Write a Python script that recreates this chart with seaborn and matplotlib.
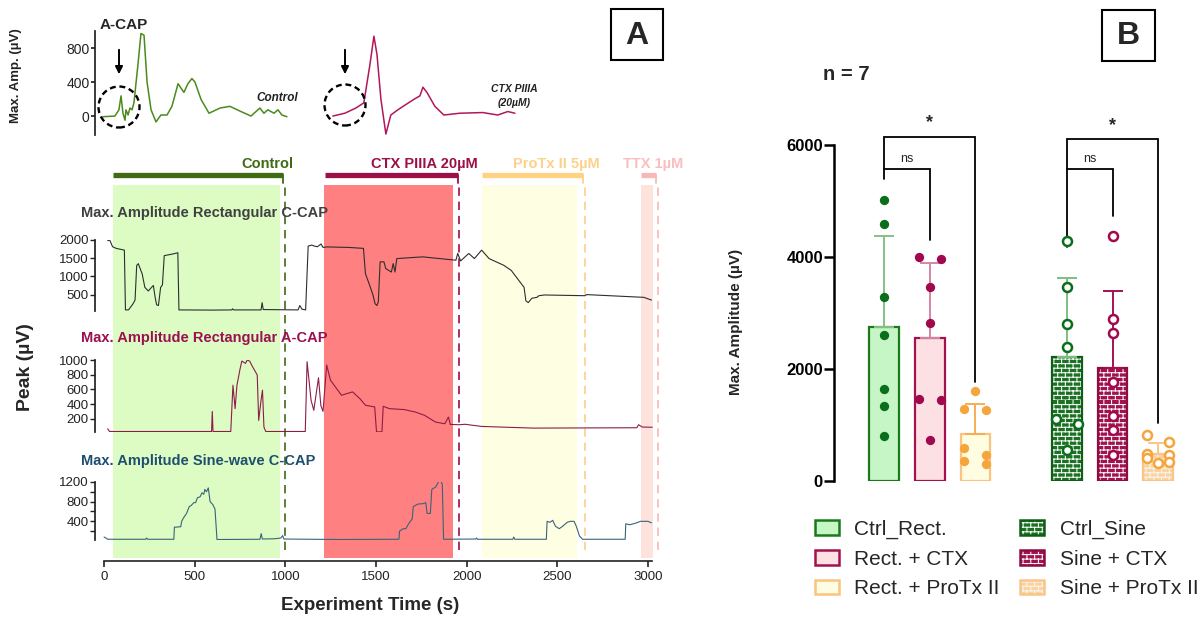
import matplotlib
matplotlib.use('Agg')
import numpy as np
import pandas as pd
import matplotlib.pyplot as plt
import matplotlib.hatch as mhatch
from matplotlib.path import Path
from matplotlib.patches import Patch, Ellipse, Rectangle, FancyArrowPatch
from matplotlib.legend_handler import HandlerTuple
import seaborn as sns

sns.set_theme(style='ticks')
plt.rcParams['font.family'] = ['Liberation Sans', 'DejaVu Sans']
plt.rcParams['hatch.linewidth'] = 0.8

# ---------------- data: panel A ----------------
# inset sweeps (ms, µV)
sweep_control = [(0, -8), (0.63, 0), (0.84, 73), (0.95, 237), (1.05, 33), (1.16, -49), (1.21, 73),
                 (1.32, 12), (1.42, 94), (1.53, 73), (1.63, 155), (1.84, 604), (2.0, 971), (2.16, 951),
                 (2.32, 400), (2.53, 73), (2.79, -69), (3.05, 12), (3.37, 12), (3.63, 114), (3.95, 380),
                 (4.26, 278), (4.47, 380), (4.68, 441), (4.84, 400), (5.16, 196), (5.58, 33), (6.16, 94),
                 (6.68, 114), (7.26, 53), (7.79, 0), (8.26, 94), (8.47, 33), (8.68, 73), (9.0, 33),
                 (9.21, 73), (9.42, 12), (9.68, -8)]
sweep_ctx = [(0, 0), (0.63, 33), (1.21, 94), (1.63, 155), (1.95, 604), (2.16, 939), (2.32, 727),
             (2.53, 196), (2.79, -212), (3.05, 12), (3.42, 73), (3.84, 135), (4.26, 196), (4.58, 237),
             (4.74, 339), (4.95, 278), (5.37, 114), (5.84, 12), (6.68, 33), (7.89, 41), (8.68, 12),
             (9.21, 53), (9.58, 33)]

# experiment time course (s, µV)
rect_ccap = [(20, 1980), (31, 2000), (47, 1815), (67, 1770), (112, 1722), (118, 80), (135, 80), (160, 250),
             (171, 350), (180, 1300), (189, 1350), (199, 1215), (210, 1075), (225, 700), (244, 600),
             (262, 700), (272, 750), (282, 420), (290, 220), (300, 200), (312, 700), (322, 765),
             (332, 1570), (383, 1620), (407, 1650), (413, 80), (600, 75), (705, 80), (709, 110), (715, 80),
             (866, 80), (872, 280), (878, 90), (1070, 80), (1080, 200), (1092, 100), (1112, 80),
             (1126, 1833), (1146, 1860), (1162, 1830), (1177, 1815), (1197, 1890), (1208, 1796),
             (1228, 1810), (1350, 1796), (1431, 1770), (1442, 1075), (1462, 800), (1483, 500), (1495, 250),
             (1505, 200), (1513, 300), (1523, 1400), (1544, 1400), (1554, 1215), (1585, 1120), (1595, 1352),
             (1605, 1120), (1615, 1490), (1758, 1537), (1941, 1445), (1951, 1630), (1967, 1425),
             (2012, 1630), (2043, 1490), (2083, 1722), (2124, 1490), (2205, 1305), (2246, 1167),
             (2317, 700), (2327, 330), (2340, 280), (2360, 400), (2388, 425), (2399, 470), (2429, 490),
             (2653, 470), (2663, 500), (2978, 425), (3020, 350)]
rect_acap = [(20, 64), (30, 27), (593, 27), (597, 300), (601, 27), (699, 27), (711, 657), (723, 338),
             (733, 655), (749, 863), (760, 986), (780, 954), (790, 1000), (804, 983), (814, 932), (835, 840),
             (845, 795), (853, 178), (866, 452), (874, 589), (882, 87), (892, 27), (1110, 27), (1120, 977),
             (1142, 452), (1157, 315), (1183, 758), (1196, 380), (1208, 300), (1228, 932), (1249, 726),
             (1269, 657), (1310, 520), (1371, 566), (1411, 475), (1442, 384), (1493, 361), (1503, 22),
             (1533, 22), (1540, 370), (1574, 338), (1656, 325), (1717, 292), (1768, 247), (1829, 155),
             (1880, 132), (1900, 224), (1910, 123), (1961, 119), (1991, 125), (2083, 96), (2368, 73),
             (2939, 78), (2949, 119), (2969, 87), (3024, 85)]
sine_ccap = [(0, 80), (10, 60), (20, 35), (230, 35), (235, 60), (240, 35), (385, 35), (388, 280), (423, 290),
             (428, 400), (440, 480), (455, 560), (470, 700), (480, 720), (495, 780), (505, 780), (515, 880),
             (530, 900), (540, 980), (550, 950), (556, 1050), (565, 1000), (575, 1080), (585, 800),
             (600, 740), (612, 650), (623, 30), (860, 35), (867, 150), (873, 40), (940, 45), (975, 60),
             (985, 110), (992, 40), (1300, 30), (1627, 35), (1630, 200), (1650, 250), (1665, 250),
             (1680, 350), (1700, 450), (1706, 700), (1730, 750), (1760, 760), (1775, 780), (1782, 560),
             (1800, 560), (1808, 1050), (1830, 1100), (1850, 1240), (1860, 1200), (1866, 1150), (1873, 35),
             (2050, 40), (2055, 60), (2060, 35), (2255, 35), (2260, 80), (2266, 35), (2440, 35), (2444, 400),
             (2460, 380), (2475, 420), (2490, 300), (2511, 250), (2530, 300), (2555, 380), (2572, 400),
             (2593, 400), (2605, 300), (2623, 100), (2640, 35), (2875, 35), (2878, 350), (2900, 330),
             (2930, 360), (2960, 400), (3000, 400), (3020, 370)]

cond_names = ['Control', 'CTX PIIIA 20µM', 'ProTx II 5µM', 'TTX 1µM']
cond_bar_start = [51, 1219, 2085, 2963]
cond_bar_end = [989, 1950, 2641, 3047]
shade_start = [51, 1212, 2083, 2963]
shade_end = [973, 1927, 2607, 3030]
washout_t = [998, 1957, 2654, 3055]

# ---------------- data: panel B ----------------
b_labels = ['Ctrl_Rect.', 'Rect. + CTX', 'Rect. + ProTx II', 'Ctrl_Sine', 'Sine + CTX', 'Sine + ProTx II']
b_mean = [2750, 2550, 840, 2215, 2018, 482]
b_sd = [1630, 1350, 535, 1410, 1375, 200]
ctrl_rect_pts = [5020, 4590, 3290, 2610, 1640, 1340, 800]
rect_ctx_pts = [4000, 3965, 3465, 2820, 1465, 1440, 730]
rect_protx_pts = [1610, 1285, 1270, 590, 465, 355, 305]
ctrl_sine_pts = [4290, 3465, 2800, 2390, 1105, 1020, 555]
sine_ctx_pts = [4375, 2895, 2645, 1770, 1160, 910, 465]
sine_protx_pts = [820, 700, 480, 465, 410, 340, 320]
# brackets: (left bar, right bar, top, left leg end, right leg end, label)
sig_brackets = [(0, 2, 6150, 5400, 1770, '*'), (0, 1, 5570, 5570, 4300, 'ns'),
                (4, 6, 6100, 4180, 1040, '*'), (4, 5, 5570, 5570, 4730, 'ns')]


# brick hatch (GraphPad style) used for the sine-wave bars
class BrickHatch(mhatch.HatchPatternBase):
    def __init__(self, hatch, density):
        n = hatch.count('+')
        self.rows, self.cols = 22 * n, 13 * n
        self.num_vertices = (2 * self.rows + 2 * self.rows * self.cols) if n else 0

    def set_vertices_and_codes(self, vertices, codes):
        h = 1.0 / self.rows
        k = 0
        for r in range(self.rows):
            vertices[k] = (0, r * h)
            vertices[k + 1] = (1, r * h)
            k += 2
        for r in range(self.rows):
            off = 0.5 / self.cols if r % 2 else 0.0
            for c in range(self.cols):
                x = c / self.cols + off
                vertices[k] = (x, r * h)
                vertices[k + 1] = (x, (r + 1) * h)
                k += 2
        codes[0::2] = Path.MOVETO
        codes[1::2] = Path.LINETO


mhatch._hatch_types = [BrickHatch]
HATCH = '+'

# ---------------- layout helpers ----------------
W, H = 1201, 619
fig = plt.figure(figsize=(W / 100, H / 100), dpi=100)
fig.patch.set_facecolor('white')


def box(x0, y0, x1, y1):
    return [x0 / W, 1 - y1 / H, (x1 - x0) / W, (y1 - y0) / H]


def fx(px):
    return px / W


def fy(py):
    return 1 - py / H


def spread(vals, thr=200, dx=0.24):
    offs, i = [], 0
    while i < len(vals):
        if i + 1 < len(vals) and abs(vals[i] - vals[i + 1]) < thr:
            offs += [-dx, dx]
            i += 2
        else:
            offs.append(0.0)
            i += 1
    return offs


# ---------------- panel A: inset sweeps ----------------
ax_in = fig.add_axes(box(95, 31, 600, 135))
ax_in.set_facecolor('none')
ax_in.set_xlim(-0.42, 26.16)
ax_in.set_ylim(-223, 1000)
t, v = zip(*sweep_control)
sns.lineplot(x=list(t), y=list(v), ax=ax_in, color='#4b8a1c', lw=1.1, sort=False, estimator=None)
t, v = zip(*sweep_ctx)
sns.lineplot(x=[x + 12.1 for x in t], y=list(v), ax=ax_in, color='#b0185a', lw=1.1, sort=False, estimator=None)
for s in ['top', 'right', 'bottom']:
    ax_in.spines[s].set_visible(False)
ax_in.spines['left'].set_color('#222222')
ax_in.set_xticks([])
ax_in.set_yticks([0, 400, 800])
ax_in.tick_params(axis='y', labelsize=10, length=3, pad=1, colors='#222222')
ax_in.set_ylabel('')
fig.text(fx(16), fy(76), 'Max. Amp. (µV)', rotation=90, ha='center', va='center', fontsize=9.5,
         fontweight='bold', color='#222222')
fig.text(fx(124), fy(25), 'A-CAP', ha='center', va='center', fontsize=11, fontweight='bold')
fig.text(fx(298), fy(98), 'Control', ha='right', va='center', fontsize=8.5, fontweight='bold',
         fontstyle='italic', color='#222222')
fig.text(fx(514), fy(96), 'CTX PIIIA\n(20µM)', ha='center', va='center', fontsize=7.5, fontweight='bold',
         fontstyle='italic', color='#222222', linespacing=1.5)
for cx, cy in [(119, 107), (345, 105)]:
    fig.add_artist(Ellipse((fx(cx), fy(cy)), 41 / W, 41 / H, transform=fig.transFigure, fill=False,
                           ec='black', lw=1.7, ls=(0, (2.5, 1.6))))
    fig.add_artist(FancyArrowPatch((fx(cx), fy(47)), (fx(cx), fy(77)), transform=fig.transFigure,
                                   arrowstyle='-|>', mutation_scale=11, lw=1.4, color='black'))

# ---------------- panel A: time course ----------------
T_LIM = (-50, 3078)
bar_cols = ['#3f6b12', '#9c0f48', '#ffd283', '#f9b8b8']
label_cols = ['#3f6b12', '#9c0f48', '#fcd18a', '#f9bfbf']
shade_cols = ['#ddfcc4', '#ff8080', '#fefee2', '#fde3dc']
dash_cols = ['#3f6b12', '#9c0f48', '#fcd08a', '#f9b8b8']
label_x = [1045, 2061, 2735, 2863]
label_ha = ['right', 'right', 'right', 'left']

ax_t = fig.add_axes(box(95, 185, 662, 561))
ax_t.set_xlim(*T_LIM)
ax_t.set_ylim(0, 1)
ax_t.set_facecolor('none')
for s in ['left', 'right', 'top']:
    ax_t.spines[s].set_visible(False)
ax_t.spines['bottom'].set_bounds(0, 3025)
ax_t.spines['bottom'].set_color('#222222')
ax_t.spines['bottom'].set_linewidth(1.2)
ax_t.set_yticks([])
ax_t.set_xticks(range(0, 3001, 500))
ax_t.tick_params(axis='x', labelsize=9.5, length=4, width=1.2, pad=3, colors='#222222')
trans = ax_t.get_xaxis_transform()
for i, name in enumerate(cond_names):
    ax_t.axvspan(shade_start[i], shade_end[i], ymin=0.008, ymax=1, color=shade_cols[i], lw=0, zorder=0)
    ax_t.axvline(washout_t[i], ymin=0.03, ymax=1, color=dash_cols[i], lw=1.2, ls=(0, (5, 3.5)), zorder=1)
    ax_t.plot([cond_bar_start[i], cond_bar_end[i]], [1.0266, 1.0266], transform=trans, color=bar_cols[i],
              lw=3.8, clip_on=False, solid_capstyle='butt')
    ax_t.plot([cond_bar_end[i], cond_bar_end[i]], [1.0266, 1.005], transform=trans, color=bar_cols[i],
              lw=1.3, clip_on=False)
    ax_t.text(label_x[i], 1.056, name, transform=trans, ha=label_ha[i], va='center', fontsize=10.5,
              fontweight='bold', color=label_cols[i])

subpanels = [
    ('Max. Amplitude Rectangular C-CAP', rect_ccap, '#404040', '#2e2e2e', 240, 311, (50, 2000),
     [500, 1000, 1500, 2000], 213, None),
    ('Max. Amplitude Rectangular A-CAP', rect_acap, '#9b1050', '#8c1d4a', 360, 432, (20, 1000),
     [200, 400, 600, 800, 1000], 338, None),
    ('Max. Amplitude Sine-wave C-CAP', sine_ccap, '#1f4f70', '#3b6379', 482, 540, (20, 1200),
     [400, 800, 1200], 461, 200),
]
for title, trace, tcol, lcol, top, bot, ylim, ticks, ty, minor in subpanels:
    ax = fig.add_axes(box(95, top, 662, bot))
    ax.set_facecolor('none')
    ax.set_xlim(*T_LIM)
    ax.set_ylim(*ylim)
    t, v = zip(*trace)
    sns.lineplot(x=list(t), y=list(v), ax=ax, color=lcol, lw=0.8, sort=False, estimator=None)
    for s in ['top', 'right', 'bottom']:
        ax.spines[s].set_visible(False)
    ax.spines['left'].set_color('#222222')
    ax.set_xticks([])
    ax.set_yticks(ticks)
    if minor:
        ax.set_yticks(range(minor, ylim[1], 400), minor=True)
    ax.tick_params(axis='y', which='both', labelsize=9.5, length=3.5, width=1, pad=1, colors='#222222')
    ax.set_xlabel('')
    ax.set_ylabel('')
    fig.text(fx(81), fy(ty), title, ha='left', va='center', fontsize=10.5, fontweight='bold', color=tcol)

fig.text(fx(25), fy(367), 'Peak (µV)', rotation=90, ha='center', va='center', fontsize=14, fontweight='bold')
fig.text(fx(370), fy(605), 'Experiment Time (s)', ha='center', va='center', fontsize=13.5, fontweight='bold')

# ---------------- panel B ----------------
face = ['#c6f5c6', '#fde0e4', '#fffde1', '#1a7222', '#a3124f', '#fdd39a']
edge = ['#1a7a1a', '#a3124f', '#fbc47e', '#0e5e16', '#8c0c45', '#f9c68a']
err_cols = ['#84c284', '#d684a6', '#f7ad55', '#7fbf7f', '#a3124f', '#f9c68a']
pt_cols = ['#0b6e1a', '#a1094e', '#f6a53c', '#0b6e1a', '#a1094e', '#f6a53c']
hatched = [False, False, False, True, True, True]
bar_pos = [0, 1, 2, 4, 5, 6]
all_pts = [ctrl_rect_pts, rect_ctx_pts, rect_protx_pts, ctrl_sine_pts, sine_ctx_pts, sine_protx_pts]

axB = fig.add_axes(box(834, 145, 1180, 481))
axB.set_facecolor('none')
bar_df = pd.DataFrame({'pos': bar_pos, 'mean': b_mean, 'group': b_labels})
sns.barplot(data=bar_df, x='pos', y='mean', hue='group', hue_order=b_labels,
            palette=dict(zip(b_labels, face)), native_scale=True, width=0.65, dodge=False,
            errorbar=None, legend=False, saturation=1, ax=axB)
for p in list(axB.patches):
    i = bar_pos.index(round(p.get_x() + p.get_width() / 2))
    if hatched[i]:
        p.set_hatch(HATCH)
        p.set_edgecolor('#f4f4f4')
        p.set_linewidth(0)
        axB.add_patch(Rectangle((p.get_x(), 0), p.get_width(), p.get_height(), fill=False,
                                ec=edge[i], lw=1.6, zorder=p.get_zorder() + 0.1))
    else:
        p.set_edgecolor(edge[i])
        p.set_linewidth(1.6)

for i, pos in enumerate(bar_pos):
    axB.errorbar([pos], [b_mean[i]], yerr=[[0], [b_sd[i]]], color=err_cols[i], lw=1.4, capsize=7,
                 capthick=1.4, zorder=3)
    vals = sorted(all_pts[i], reverse=True)
    xs = [pos + o for o in spread(vals)]
    if hatched[i]:
        sns.scatterplot(x=xs, y=vals, ax=axB, s=42, color='white', edgecolor=pt_cols[i], linewidth=1.8,
                        zorder=5, legend=False)
    else:
        sns.scatterplot(x=xs, y=vals, ax=axB, s=45, color=pt_cols[i], edgecolor=pt_cols[i], linewidth=0,
                        zorder=5, legend=False)

for x0, x1, top, lb, rb, lab in sig_brackets:
    axB.plot([x0, x0, x1, x1], [lb, top, top, rb], color='black', lw=1.3, clip_on=False,
             solid_joinstyle='miter', zorder=4)
    if lab == '*':
        axB.text((x0 + x1) / 2, top + 90, '*', ha='center', va='bottom', fontsize=13, fontweight='bold')
    else:
        axB.text((x0 + x1) / 2, top + 80, 'ns', ha='center', va='bottom', fontsize=9)

axB.set_xlim(-1.094, 6.477)
axB.set_ylim(0, 6000)
for s in ['top', 'right', 'bottom']:
    axB.spines[s].set_visible(False)
axB.spines['left'].set_linewidth(1.8)
axB.spines['left'].set_color('black')
axB.set_xticks([])
axB.set_yticks([0, 2000, 4000, 6000])
axB.tick_params(axis='y', labelsize=12, length=7, width=1.8, pad=1, colors='black')
for lab in axB.get_yticklabels():
    lab.set_fontweight('bold')
axB.set_xlabel('')
axB.set_ylabel('')
fig.text(fx(736), fy(322), 'Max. Amplitude (µV)', rotation=90, ha='center', va='center', fontsize=11,
         fontweight='bold')
fig.text(fx(823), fy(74), 'n = 7', ha='left', va='center', fontsize=14.5, fontweight='bold')

handles = []
for i in range(6):
    if hatched[i]:
        handles.append((Patch(fc=face[i], ec='#f4f4f4', hatch=HATCH, lw=0),
                        Patch(fc='none', ec=edge[i], lw=1.8)))
    else:
        handles.append(Patch(fc=face[i], ec=edge[i], lw=1.8))
fig.legend(handles, b_labels, loc='upper left', bbox_to_anchor=(fx(815), fy(520)), ncol=2, frameon=False,
           fontsize=15, handlelength=1.13, handleheight=0.7, handletextpad=0.75, columnspacing=1.0,
           labelspacing=0.5, borderpad=0, borderaxespad=0, handler_map={tuple: HandlerTuple(ndivide=1)})

# ---------------- panel letters ----------------
for (x0, y0, x1, y1), letter in [((611, 9, 663, 60), 'A'), ((1102, 10, 1155, 61), 'B')]:
    fig.add_artist(Rectangle((fx(x0), fy(y1)), (x1 - x0) / W, (y1 - y0) / H, transform=fig.transFigure,
                             fill=False, ec='black', lw=1.5))
    fig.text(fx((x0 + x1) / 2), fy((y0 + y1) / 2 + 1), letter, ha='center', va='center', fontsize=23,
             fontweight='bold')

fig.savefig('out.png', dpi=100)
